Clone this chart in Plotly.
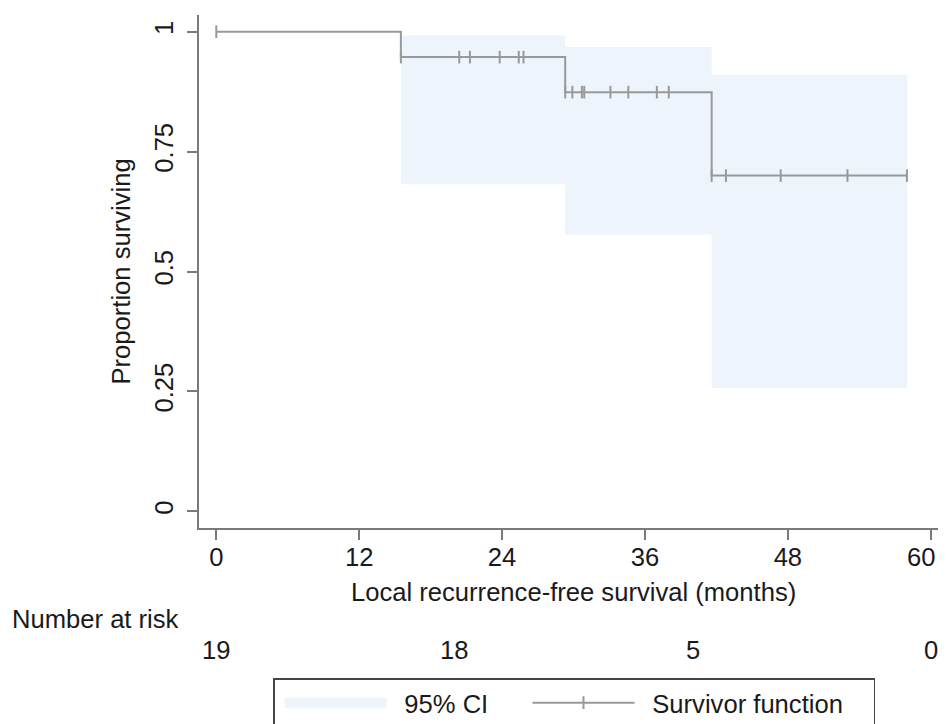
import plotly.graph_objects as go

# ---------------- data ----------------
time_points = [0, 15.5, 20.4, 21.3, 23.8, 25.4, 25.8, 29.3, 29.9, 30.7, 30.9,
               33.1, 34.6, 37.0, 38.0, 41.6, 42.8, 47.4, 53.0, 58.0]
survival = [1.0, 0.947, 0.947, 0.947, 0.947, 0.947, 0.947,
            0.874, 0.874, 0.874, 0.874, 0.874, 0.874, 0.874, 0.874,
            0.700, 0.700, 0.700, 0.700, 0.700]

ci_start = [15.5, 29.3, 41.6]
ci_end = [29.3, 41.6, 58.0]
ci_lower = [0.682, 0.577, 0.257]
ci_upper = [0.992, 0.968, 0.910]

risk_times = [0, 20, 40, 60]
risk_counts = [19, 18, 5, 0]

x_ticks = [0, 12, 24, 36, 48, 60]
x_tick_labels = ["0", "12", "24", "36", "48", "60"]
y_ticks = [0, 0.25, 0.5, 0.75, 1]
y_tick_labels = ["0", "0.25", "0.5", "0.75", "1"]

# ---------------- style ----------------
FONT = "Liberation Sans, Arial, Helvetica, sans-serif"
FS = 25.6
TEXT = "#1a1a1a"
AXIS = "#7a7a7a"
LINE = "#999999"
BAND = "#eef4fb"

OFF = 8                      # default body margin of the html page
PAGE_W, PAGE_H = 946, 724
VISIBLE_RIGHT = 938          # right edge of the visible page area
W, H = PAGE_W - OFF, PAGE_H - OFF
# plot area in page pixels: x 199..946, y 15..528
L, R, T = 199 - OFF, 0, 15 - OFF
B = H - (528 - OFF)
plot_h = H - T - B
plot_w = W - L - R


def py(pix):
    """page pixel row -> paper y"""
    return (H - B - (pix - OFF)) / plot_h


def px(pix):
    """page pixel column -> paper x"""
    return (pix - OFF - L) / plot_w


# CI step polygon built from the band arrays
poly_x, poly_y = [], []
for s, e, u in zip(ci_start, ci_end, ci_upper):
    poly_x += [s, e]
    poly_y += [u, u]
for s, e, lo in zip(reversed(ci_start), reversed(ci_end), reversed(ci_lower)):
    poly_x += [e, s]
    poly_y += [lo, lo]

fig = go.Figure()

fig.add_trace(go.Scatter(
    x=poly_x, y=poly_y, mode="none", fill="toself", fillcolor=BAND,
    showlegend=False, hoverinfo="skip"))

# legend entry for the CI band
fig.add_trace(go.Scatter(
    x=[None], y=[None], mode="lines", name="\u200295% CI",
    line=dict(color=BAND, width=26), legendwidth=126))

fig.add_trace(go.Scatter(
    x=time_points, y=survival, mode="lines+markers",
    name="\u2002Survivor function",
    line=dict(color=LINE, width=2, shape="hv"),
    marker=dict(symbol="line-ns", size=9, color=LINE,
                line=dict(color=LINE, width=2)),
    legendwidth=229))

annotations = [
    dict(text="Local recurrence-free survival (months)", xref="x", x=30,
         yref="paper", y=py(592), xanchor="center", yanchor="middle",
         showarrow=False, font=dict(size=FS, color=TEXT, family=FONT)),
    dict(text="Proportion surviving", xref="paper", x=px(121),
         yref="y", y=0.5, textangle=-90, xanchor="center", yanchor="middle",
         showarrow=False, font=dict(size=FS, color=TEXT, family=FONT)),
    dict(text="Number at risk", xref="paper", x=px(10),
         yref="paper", y=py(619), xanchor="left", yanchor="middle",
         showarrow=False, font=dict(size=FS, color=TEXT, family=FONT)),
    # last x tick label, kept inside the visible page area
    dict(text=x_tick_labels[-1], xref="paper", x=px(VISIBLE_RIGHT - 1),
         yref="paper", y=py(557), xanchor="right", yanchor="middle",
         showarrow=False, font=dict(size=FS, color=TEXT, family=FONT)),
]
for t, n in zip(risk_times, risk_counts):
    annotations.append(dict(
        text=str(n), xref="x", x=t, yref="paper", y=py(650),
        xanchor="center", yanchor="middle", showarrow=False,
        font=dict(size=FS, color=TEXT, family=FONT)))

fig.update_layout(
    width=W, height=H,
    margin=dict(l=L, r=R, t=T, b=B, pad=0),
    paper_bgcolor="white", plot_bgcolor="white",
    font=dict(family=FONT, size=FS, color=TEXT),
    xaxis=dict(range=[-1.453, 61.28], tickvals=x_ticks,
               ticktext=x_tick_labels[:-1] + [""],
               ticks="outside", ticklen=10, tickwidth=1.5, tickcolor=AXIS,
               showline=True, linecolor=AXIS, linewidth=1.5,
               showgrid=False, zeroline=False, ticklabelstandoff=-4,
               automargin=False,
               tickfont=dict(size=FS, color=TEXT, family=FONT)),
    yaxis=dict(range=[-0.0346, 1.0348], tickvals=y_ticks, ticktext=y_tick_labels,
               tickangle=-90,
               ticks="outside", ticklen=10, tickwidth=1.5, tickcolor=AXIS,
               showline=True, linecolor=AXIS, linewidth=1.5,
               showgrid=False, zeroline=False, ticklabelstandoff=4,
               automargin=False,
               tickfont=dict(size=FS, color=TEXT, family=FONT)),
    showlegend=True,
    legend=dict(orientation="h", xref="container", yref="container",
                x=(273 - OFF) / W, y=1 - (678 - OFF) / H,
                xanchor="left", yanchor="top",
                bordercolor="#444444", borderwidth=1.5, bgcolor="white",
                font=dict(size=FS, color=TEXT, family=FONT),
                itemwidth=102, indentation=5, traceorder="normal",
                itemclick=False, itemdoubleclick=False),
    annotations=annotations,
)

fig.write_html("out.html")
